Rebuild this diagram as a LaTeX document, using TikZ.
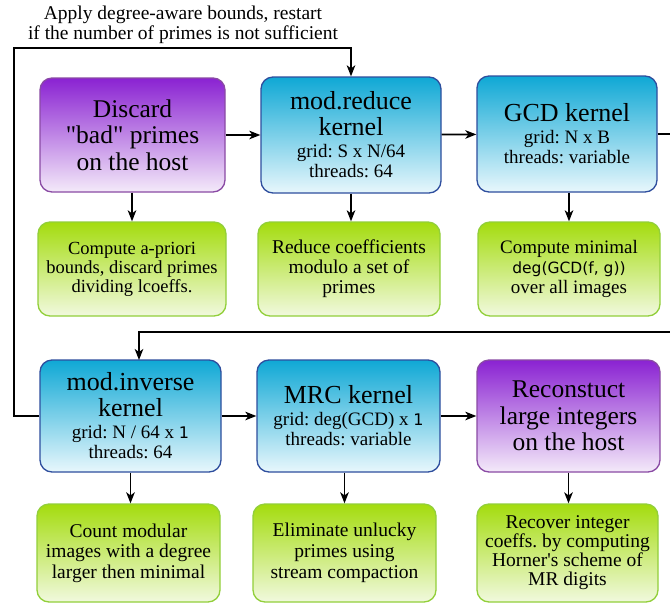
\documentclass[tikz,border=0pt]{standalone}
\usepackage{fontspec}
\setmainfont{Liberation Serif}
\newfontfamily\dv{DejaVu Sans}
\usetikzlibrary{arrows.meta}

\definecolor{purTop}{HTML}{8A22D2}
\definecolor{purBot}{HTML}{F4EAF9}
\definecolor{purLine}{HTML}{8A4AA4}
\definecolor{bluTop}{HTML}{0FA8D5}
\definecolor{bluBot}{HTML}{E8F7FC}
\definecolor{bluLine}{HTML}{2E4E9E}
\definecolor{grnTop}{HTML}{A4DC0E}
\definecolor{grnBot}{HTML}{F1F9DE}
\definecolor{grnLine}{HTML}{92CF3A}

\tikzset{
  box/.style={rounded corners=12pt, line width=1.3pt, align=center, inner sep=0pt,
    font=\fontsize{19}{20}\selectfont},
  hostbox/.style={box, draw=purLine, top color=purTop, bottom color=purBot,
    font=\fontsize{25.5}{26.5}\selectfont},
  kernbox/.style={box, draw=bluLine, top color=bluTop, bottom color=bluBot},
  notebox/.style={box, draw=grnLine, top color=grnTop, bottom color=grnBot,
    font=\fontsize{19}{20}\selectfont},
  conn/.style={line width=1.8pt, -{Stealth[length=11pt,width=8.5pt,inset=3pt]}}
}
\newcommand{\ttl}[1]{{\fontsize{26}{26}\selectfont #1}}
\newcommand{\sansone}{{\dv\fontsize{16}{20}\selectfont 1}}
\frenchspacing

\begin{document}
\begin{tikzpicture}[x=1pt,y=-1pt]
\clip (0,0) rectangle (670,606);
\fill[white] (0,0) rectangle (670,606);

% top row: host step and two kernels
\node[hostbox, minimum width=185pt, minimum height=114pt] (A) at (132.5,135)
  {Discard\\\textquotedbl bad\textquotedbl{} primes\\on the host};
\node[kernbox, minimum width=180pt, minimum height=116pt] (B) at (351,135)
  {\ttl{mod.reduce}\\[6pt]\ttl{kernel}\\[2pt]grid: S x N/64\\threads: 64};
\node[kernbox, minimum width=180pt, minimum height=116pt] (C) at (567,134)
  {\ttl{GCD kernel}\\[2pt]grid: N x B\\threads: variable};

% notes under the top row
\node[notebox, font=\fontsize{18.5}{19}\selectfont, minimum width=188pt, minimum height=94pt] (G1) at (132,269)
  {Compute a-priori\\bounds, discard primes\\dividing lcoeffs.};
\node[notebox, font=\fontsize{19.5}{20}\selectfont, minimum width=182pt, minimum height=94pt] (G2) at (349,269)
  {Reduce coefficients\\modulo a set of\\primes};
\node[notebox, minimum width=182pt, minimum height=94pt] (G3) at (569,269)
  {Compute minimal\\{\dv\fontsize{15.5}{20}\selectfont deg(GCD(f, g))}\\over all images};

% bottom row
\node[kernbox, minimum width=181pt, minimum height=112pt] (D) at (130.5,416)
  {\ttl{mod.inverse}\\[6pt]\ttl{kernel}\\[2pt]grid: N / 64 x \sansone\\threads: 64};
\node[kernbox, minimum width=183pt, minimum height=112pt] (E) at (348.5,416)
  {\ttl{MRC kernel}\\[2pt]grid: deg(GCD) x \sansone\\threads: variable};
\node[hostbox, minimum width=183pt, minimum height=112pt] (F) at (568.5,416)
  {Reconstuct\\large integers\\on the host};

% notes under the bottom row
\node[notebox, font=\fontsize{19.5}{20.5}\selectfont, minimum width=183pt, minimum height=98pt] (H1) at (128.5,553)
  {Count modular\\images with a degree\\larger then minimal};
\node[notebox, font=\fontsize{19.5}{21}\selectfont, minimum width=183pt, minimum height=98pt] (H2) at (344.5,553)
  {Eliminate unlucky\\primes using\\stream compaction};
\node[notebox, font=\fontsize{19.5}{19}\selectfont, minimum width=181pt, minimum height=98pt] (H3) at (567.5,553)
  {Recover integer\\coeffs. by computing\\Horner\textquotesingle s scheme of\\MR digits};

% restart annotation
\node[align=center, font=\fontsize{19.5}{19.5}\selectfont] (restart) at (183,25)
  {Apply degree-aware bounds, restart\\if the number of primes is not sufficient};

% flow along the rows
\draw[conn] (A) -- (B);
\draw[conn] (B) -- (C);
\draw[conn] (D) -- (E);
\draw[conn] (E) -- (F);

% steps down to their notes
\draw[conn] (A.south -| G1) -- (G1.north);
\draw[conn] (B.south) -- (G2.north -| B.south);
\draw[conn] (C.south -| G3) -- (G3.north);
\draw[conn] (D.south) -- (H1.north -| D.south);
\draw[conn] (E.south -| H2) -- (H2.north);
\draw[conn] (F.south) -- (H3.north -| F.south);

% wrap from the GCD kernel to the second row
\coordinate (wrapR) at (675,332);
\coordinate (wrapIn) at (139,360);
\draw[conn] (C.east) -| (wrapR) -| (wrapIn);

% restart loop back to mod.reduce
\coordinate (loopL) at (14,48);
\draw[conn] (D.west) -| (loopL) -| (B.north);
\end{tikzpicture}
\end{document}
